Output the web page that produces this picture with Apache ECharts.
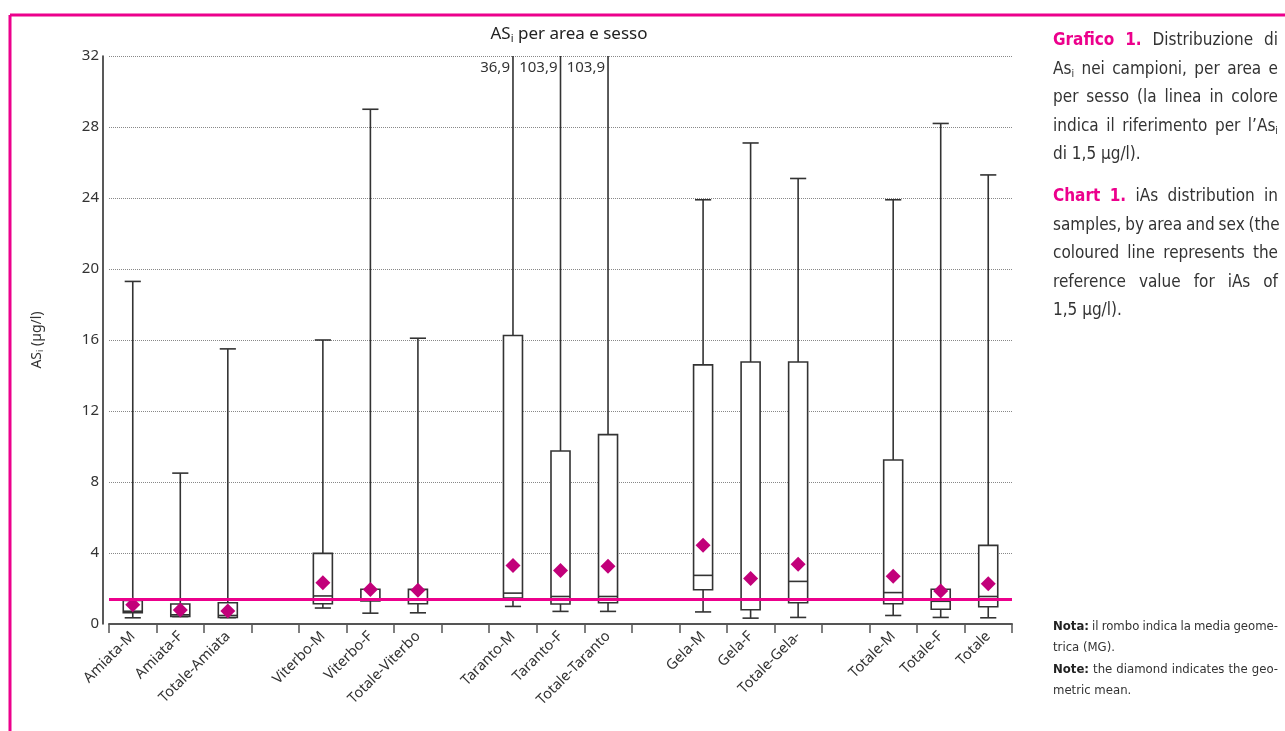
<!DOCTYPE html>
<html>
<head>
<meta charset="utf-8">
<script src="https://cdn.jsdelivr.net/npm/echarts@6/dist/echarts.min.js"></script>
<style>
  html, body { margin: 0; padding: 0; background: #fff; }
  #chart { width: 1285px; height: 731px; }
</style>
</head>
<body>
<div id="chart"></div>
<script>
// categories, blank entries are the gaps between areas
const categories = ['Amiata-M', 'Amiata-F', 'Totale-Amiata', '',
  'Viterbo-M', 'Viterbo-F', 'Totale-Viterbo', '',
  'Taranto-M', 'Taranto-F', 'Totale-Taranto', '',
  'Gela-M', 'Gela-F', 'Totale-Gela-', '',
  'Totale-M', 'Totale-F', 'Totale']

const whiskerLow = [0.35, 0.42, 0.36, null, 0.9, 0.61, 0.63, null, 0.99, 0.71, 0.71, null, 0.68, 0.33, 0.37, null, 0.48, 0.37, 0.35]
const quartile1 = [0.63, 0.43, 0.37, null, 1.14, 1.3, 1.14, null, 1.46, 1.13, 1.2, null, 1.93, 0.8, 1.2, null, 1.14, 0.83, 0.97]
const medians = [0.72, 0.52, 0.48, null, 1.58, 1.4, 1.4, null, 1.74, 1.55, 1.55, null, 2.74, 1.4, 2.4, null, 1.77, 1.28, 1.55]
const quartile3 = [1.32, 1.13, 1.2, null, 3.98, 1.96, 1.95, null, 16.25, 9.75, 10.67, null, 14.6, 14.76, 14.76, null, 9.24, 1.96, 4.43]
const whiskerHigh = [19.3, 8.5, 15.5, null, 16.0, 29.0, 16.1, null, 36.9, 103.9, 103.9, null, 23.9, 27.1, 25.1, null, 23.9, 28.2, 25.3]
const geoMean = [1.09, 0.79, 0.73, null, 2.33, 1.95, 1.9, null, 3.3, 3.02, 3.25, null, 4.43, 2.57, 3.36, null, 2.69, 1.86, 2.27]

const referenceValue = 1.4
const yTicks = { min: 0, max: 32, interval: 4 }

const pink = '#ec008c'
const diamondColor = '#c2007a'
const textColor = '#333333'
const lineColor = '#333333'
const captionFont = "'Liberation Sans Narrow', 'DejaVu Sans Condensed', sans-serif"
const chartFont = "'Noto Sans', sans-serif"

function formatComma(value) {
  return String(value).replace('.', ',')
}

const boxData = []
const meanData = []
categories.forEach((name, i) => {
  if (whiskerLow[i] === null) {
    return
  }
  boxData.push([i, whiskerLow[i], quartile1[i], medians[i], quartile3[i], whiskerHigh[i]])
  meanData.push([i, geoMean[i]])
})

function renderBox(params, api) {
  const idx = api.value(0)
  const cs = params.coordSys
  const x = api.coord([idx, 0])[0]
  const yOf = v => api.coord([idx, v])[1]
  const bandWidth = api.size([1, 0])[0]
  const boxW = bandWidth * 0.4
  const capW = bandWidth * 0.34
  const top = cs.y

  const lowY = yOf(api.value(1))
  const q1Y = yOf(api.value(2))
  const medY = yOf(api.value(3))
  const q3Y = yOf(api.value(4))
  const highValue = api.value(5)
  const highY = yOf(highValue)
  const clipped = highY < top
  const hy = Math.max(highY, top)

  const stroke = { stroke: lineColor, lineWidth: 1.6, fill: null }
  const children = [
    { type: 'line', shape: { x1: x, y1: lowY, x2: x, y2: q1Y }, style: stroke },
    { type: 'line', shape: { x1: x, y1: q3Y, x2: x, y2: hy }, style: stroke },
    { type: 'line', shape: { x1: x - capW / 2, y1: lowY, x2: x + capW / 2, y2: lowY }, style: stroke },
    { type: 'rect', shape: { x: x - boxW / 2, y: q3Y, width: boxW, height: q1Y - q3Y }, style: { stroke: lineColor, lineWidth: 1.6, fill: '#fff' } },
    { type: 'line', shape: { x1: x - boxW / 2, y1: medY, x2: x + boxW / 2, y2: medY }, style: stroke }
  ]
  if (clipped) {
    children.push({
      type: 'text',
      style: {
        text: formatComma(highValue),
        x: x - 3,
        y: top + 4,
        align: 'right',
        verticalAlign: 'top',
        fontSize: 15,
        fontFamily: chartFont,
        fill: textColor
      }
    })
  } else {
    children.push({ type: 'line', shape: { x1: x - capW / 2, y1: hy, x2: x + capW / 2, y2: hy }, style: stroke })
  }
  return { type: 'group', children }
}

// caption text, justified lines are flagged
const captionLines = [
  { y: 41, just: true, text: '{b|Grafico} {b|1.} Distribuzione di' },
  { y: 70, just: true, text: 'As{s|i} nei campioni, per area e' },
  { y: 98, just: true, text: 'per sesso (la linea in colore' },
  { y: 127, just: true, text: 'indica il riferimento per l\u2019As{s|i}' },
  { y: 155, just: false, text: 'di 1,5 \u00b5g/l).' },
  { y: 197, just: true, text: '{b|Chart} {b|1.} iAs distribution in' },
  { y: 226, just: true, text: 'samples, by area and sex (the' },
  { y: 254, just: true, text: 'coloured line represents the' },
  { y: 283, just: true, text: 'reference value for iAs of' },
  { y: 311, just: false, text: '1,5 \u00b5g/l).' }
]

const noteLines = [
  { y: 627, just: true, text: '{b|Nota:} il rombo indica la media geome-' },
  { y: 648, just: false, text: 'trica (MG).' },
  { y: 670, just: true, text: '{b|Note:} the diamond indicates the geo-' },
  { y: 691, just: false, text: 'metric mean.' }
]

const measureCtx = document.createElement('canvas').getContext('2d')

function wordWidth(word, size) {
  let width = 0
  const re = /\{(\w)\|([^}]*)\}|([^{]+)/g
  let m
  while ((m = re.exec(word))) {
    if (m[3] !== undefined) {
      measureCtx.font = `${size}px ${captionFont}`
      width += measureCtx.measureText(m[3]).width
    } else if (m[1] === 'b') {
      measureCtx.font = `bold ${size}px ${captionFont}`
      width += measureCtx.measureText(m[2]).width
    } else {
      measureCtx.font = `${size * 0.62}px ${captionFont}`
      width += measureCtx.measureText(m[2]).width
    }
  }
  return width
}

function lineGraphics(line, size, boldColor, left, width) {
  const rich = {
    b: { fontSize: size, fontFamily: captionFont, fontWeight: 'bold', fill: boldColor },
    s: { fontSize: size * 0.62, fontFamily: captionFont, fill: textColor, padding: [size * 0.55, 0, 0, 0] }
  }
  const words = line.text.split(' ')
  const widths = words.map(w => wordWidth(w, size))
  const spaceW = wordWidth(' ', size)
  const total = widths.reduce((a, b) => a + b, 0)
  let gap = line.just && words.length > 1 ? (width - total) / (words.length - 1) : spaceW
  gap = Math.max(gap, spaceW * 0.8)
  let x = left
  return words.map((w, i) => {
    const el = {
      type: 'text',
      x: x,
      y: line.y,
      style: {
        text: w,
        fontSize: size,
        fontFamily: captionFont,
        fill: textColor,
        verticalAlign: 'middle',
        rich
      }
    }
    x += widths[i] + gap
    return el
  })
}

const chart = echarts.init(document.getElementById('chart'))

const option = {
  backgroundColor: '#fff',
  animation: false,
  textStyle: { fontFamily: chartFont },
  title: {
    text: '{a|AS}{s|i}{a| per area e sesso}',
    left: 564,
    textAlign: 'center',
    top: 20,
    textStyle: {
      fontWeight: 'normal',
      rich: {
        a: { fontSize: 17, color: '#222', fontFamily: chartFont, fontWeight: 'normal' },
        s: { fontSize: 11, color: '#222', fontFamily: chartFont, fontWeight: 'normal', padding: [8, 0, 0, 0] }
      }
    }
  },
  grid: {
    left: 109,
    right: 273,
    top: 56,
    bottom: 107
  },
  xAxis: {
    type: 'category',
    data: categories,
    boundaryGap: true,
    axisLine: { lineStyle: { color: '#555', width: 2 } },
    axisTick: { show: true, interval: 0, length: 9, lineStyle: { color: '#555', width: 1.5 } },
    axisLabel: {
      interval: 0,
      rotate: 45,
      fontSize: 14.5,
      color: textColor,
      margin: 10
    },
    splitLine: { show: false }
  },
  yAxis: {
    type: 'value',
    min: yTicks.min,
    max: yTicks.max,
    interval: yTicks.interval,
    offset: 6,
    name: '{a|AS}{s|i}{a| (\u00b5g/l)}',
    nameLocation: 'middle',
    nameRotate: 90,
    nameGap: 58,
    nameTextStyle: {
      rich: {
        a: { fontSize: 14, color: textColor, fontFamily: chartFont },
        s: { fontSize: 9, color: textColor, fontFamily: chartFont, padding: [7, 0, 0, 0] }
      }
    },
    axisLine: { show: true, lineStyle: { color: '#222', width: 1.5 } },
    axisTick: { show: false },
    axisLabel: { fontSize: 15, color: textColor, margin: 4 },
    splitLine: { lineStyle: { color: '#888', type: 'dotted', width: 1 } }
  },
  series: [
    {
      name: 'Box',
      type: 'custom',
      renderItem: renderBox,
      data: boxData,
      encode: { x: 0, y: [1, 2, 3, 4, 5] },
      z: 2,
      silent: true
    },
    {
      name: 'MG',
      type: 'scatter',
      data: meanData,
      symbol: 'diamond',
      symbolSize: 15,
      itemStyle: { color: diamondColor, opacity: 1 },
      z: 4,
      markLine: {
        silent: true,
        symbol: 'none',
        label: { show: false },
        lineStyle: { color: pink, width: 3, type: 'solid', opacity: 1 },
        data: [{ yAxis: referenceValue }]
      }
    }
  ],
  graphic: [
    { type: 'line', shape: { x1: 10, y1: 15, x2: 1285, y2: 15 }, style: { stroke: pink, lineWidth: 3 } },
    { type: 'line', shape: { x1: 10, y1: 15, x2: 10, y2: 731 }, style: { stroke: pink, lineWidth: 3 } },
    ...captionLines.flatMap(line => lineGraphics(line, 17, pink, 1053, 225)),
    ...noteLines.flatMap(line => lineGraphics(line, 13, '#222', 1053, 225))
  ]
}

chart.setOption(option)
</script>
</body>
</html>
